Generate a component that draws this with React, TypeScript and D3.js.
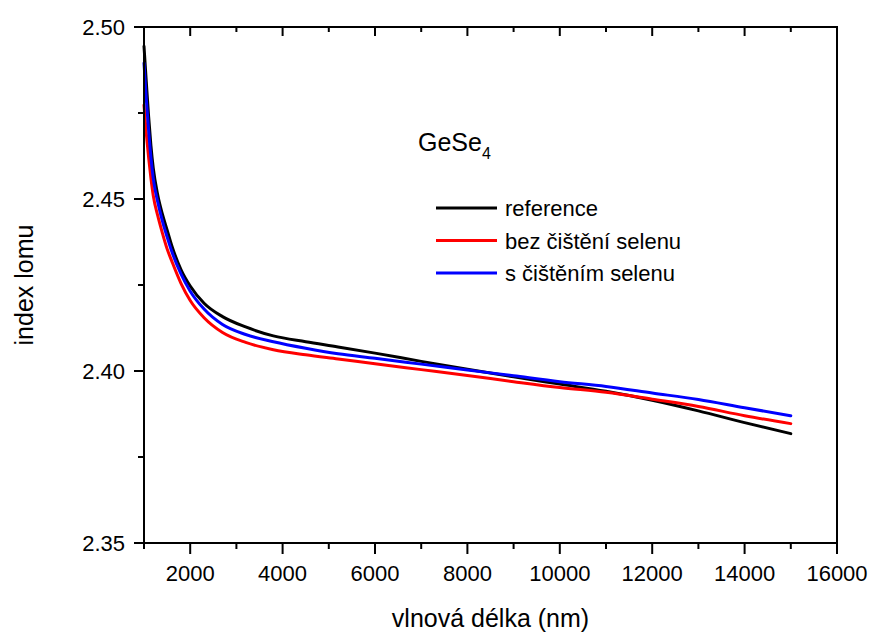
import React from "react";
import * as d3 from "d3";

// vlnová délka (nm)
const wavelengths = [
  1000, 1050, 1100, 1150, 1200, 1300, 1400, 1500, 1600, 1800, 2000, 2300, 2700,
  3200, 3800, 4500, 5200, 6000, 7000, 8000, 9000, 10000, 11000, 12000, 13000,
  14000, 15000,
];

const referenceN = [
  2.4944, 2.484, 2.474, 2.4655, 2.459, 2.451, 2.4455, 2.441, 2.4365, 2.4295,
  2.4247, 2.4197, 2.4158, 2.4128, 2.4102, 2.4085, 2.407, 2.4052, 2.4028, 2.4005,
  2.3983, 2.3962, 2.3941, 2.3915, 2.3884, 2.385, 2.3818,
];
const bezCisteniN = [
  2.4773, 2.469, 2.462, 2.456, 2.451, 2.445, 2.44, 2.4355, 2.432, 2.4255,
  2.4205, 2.4155, 2.4112, 2.4083, 2.4062, 2.4047, 2.4035, 2.4021, 2.4004,
  2.3987, 2.3969, 2.3952, 2.3938, 2.3918, 2.3897, 2.387, 2.3847,
];
const sCistenimN = [
  2.4895, 2.479, 2.47, 2.462, 2.456, 2.449, 2.4435, 2.439, 2.4348, 2.4282,
  2.4232, 2.418, 2.4135, 2.4106, 2.4085, 2.4066, 2.405, 2.4037, 2.402, 2.4003,
  2.3986, 2.3969, 2.3955, 2.3936, 2.3917, 2.3893, 2.387,
];

const seriesNames = ["reference", "bez čištění selenu", "s čištěním selenu"];
const seriesColors = ["#000000", "#ff0000", "#0000ff"];

const xTicks = [2000, 4000, 6000, 8000, 10000, 12000, 14000, 16000];
const xMinor = [1000, 3000, 5000, 7000, 9000, 11000, 13000, 15000];
const yTicks = [2.35, 2.4, 2.45, 2.5];
const yMinor = [2.375, 2.425, 2.475];

const font = "'Liberation Sans', Arial, sans-serif";

export default function App() {
  const width = 876;
  const height = 636;
  const margin = { top: 27, right: 39, bottom: 93, left: 144 };

  const x = d3
    .scaleLinear()
    .domain([1000, 16000])
    .range([margin.left, width - margin.right]);
  const y = d3
    .scaleLinear()
    .domain([2.35, 2.5])
    .range([height - margin.bottom, margin.top]);

  const allSeries = [referenceN, bezCisteniN, sCistenimN];
  const line = d3
    .line<number>()
    .x((_, i) => x(wavelengths[i]))
    .y((v) => y(v))
    .curve(d3.curveMonotoneX);

  const x0 = x.range()[0];
  const x1 = x.range()[1];
  const y0 = y.range()[0];
  const y1 = y.range()[1];

  // legenda
  const legX = 436;
  const legY = 208;
  const legStep = 32.5;

  return (
    <svg
      width={width}
      height={height}
      style={{ position: "absolute", left: 0, top: 0, background: "#fff" }}
      fontFamily={font}
    >
      {allSeries.map((s, i) => (
        <path
          key={seriesNames[i]}
          d={line(s) || ""}
          fill="none"
          stroke={seriesColors[i]}
          strokeWidth={3}
          strokeLinejoin="round"
          strokeLinecap="round"
        />
      ))}

      {/* rámeček */}
      <rect
        x={x0}
        y={y1}
        width={x1 - x0}
        height={y0 - y1}
        fill="none"
        stroke="#000"
        strokeWidth={2}
      />

      {/* osa x */}
      {xTicks.map((t) => (
        <g key={"xt" + t}>
          <line x1={x(t)} x2={x(t)} y1={y0} y2={y0 + 11} stroke="#000" strokeWidth={2} />
          <line x1={x(t)} x2={x(t)} y1={y1} y2={y1 + 9} stroke="#000" strokeWidth={2} />
          <text x={x(t)} y={y0 + 38} textAnchor="middle" fontSize={22}>
            {t}
          </text>
        </g>
      ))}
      {xMinor.map((t) => (
        <g key={"xm" + t}>
          <line x1={x(t)} x2={x(t)} y1={y0} y2={y0 + 6} stroke="#000" strokeWidth={2} />
          <line x1={x(t)} x2={x(t)} y1={y1} y2={y1 + 5} stroke="#000" strokeWidth={2} />
        </g>
      ))}

      {/* osa y */}
      {yTicks.map((t) => (
        <g key={"yt" + t}>
          <line x1={x0 - 10} x2={x0} y1={y(t)} y2={y(t)} stroke="#000" strokeWidth={2} />
          <text
            x={x0 - 19}
            y={y(t)}
            textAnchor="end"
            dominantBaseline="central"
            fontSize={22}
          >
            {d3.format(".2f")(t)}
          </text>
        </g>
      ))}
      {yMinor.map((t) => (
        <line
          key={"ym" + t}
          x1={x0 - 6}
          x2={x0}
          y1={y(t)}
          y2={y(t)}
          stroke="#000"
          strokeWidth={2}
        />
      ))}

      <text x={(x0 + x1) / 2} y={627} textAnchor="middle" fontSize={25}>
        vlnová délka (nm)
      </text>
      <text
        transform={`translate(33,${(y0 + y1) / 2}) rotate(-90)`}
        textAnchor="middle"
        fontSize={25}
      >
        index lomu
      </text>

      <text x={418} y={151} fontSize={25}>
        GeSe<tspan fontSize={16} dy={8}>4</tspan>
      </text>

      {seriesNames.map((name, i) => (
        <g key={"leg" + name}>
          <line
            x1={legX}
            x2={legX + 61}
            y1={legY + i * legStep}
            y2={legY + i * legStep}
            stroke={seriesColors[i]}
            strokeWidth={3}
          />
          <text x={legX + 69} y={legY + i * legStep + 8} fontSize={22}>
            {name}
          </text>
        </g>
      ))}
    </svg>
  );
}
